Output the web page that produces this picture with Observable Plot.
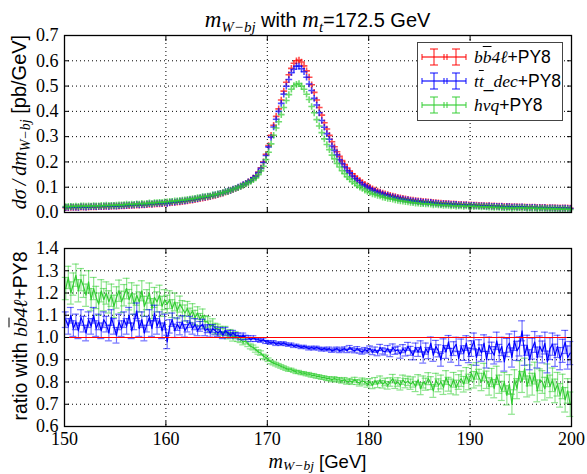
<!DOCTYPE html>
<html><head><meta charset="utf-8">
<script src="https://cdn.jsdelivr.net/npm/d3@7"></script>
<script src="https://cdn.jsdelivr.net/npm/@observablehq/plot@0.6"></script>
<style>
body{margin:0;background:#fff;}
#wrap{position:relative;width:587px;height:474px;overflow:hidden;font-family:"Liberation Sans",Arial,sans-serif;color:#000;}
.abs{position:absolute;white-space:nowrap;}
.mi{font-family:"Liberation Serif","DejaVu Serif",serif;font-style:italic;}
.ol{text-decoration:overline;}
sub{font-size:70%;vertical-align:-0.3em;line-height:0;}
.leg{position:absolute;left:417px;top:42px;width:144px;height:77px;border:1.5px solid #444;background:#fff;}
.row{position:absolute;left:3px;height:22px;font-size:17.5px;line-height:22px;}
.row svg{position:absolute;left:0;top:1px;}
.row span.t{position:absolute;left:53px;top:0;}
</style>
</head><body>
<div id="wrap"></div>
<script>
// ---------- data ----------
const binLow = d3.range(150, 200, 0.25);   // 200 bins of 0.25 GeV
const binW = 0.25;
const xTicks = [150, 160, 170, 180, 190, 200];
const yTicksTop = [0.0, 0.1, 0.2, 0.3, 0.4, 0.5, 0.6, 0.7];
const yTicksRatio = [0.6, 0.7, 0.8, 0.9, 1.0, 1.1, 1.2, 1.3, 1.4];
const seriesNames = ["bb4l+PY8", "ttdec+PY8", "hvq+PY8"];
const seriesColors = ["#ff0000", "#0000ff", "#32cd32"];

// bb4l+PY8 differential cross section [pb/GeV]
const redTop = [
.019,.019,.020,.020, .020,.020,.021,.021, .021,.021,.022,.022, .022,.023,.023,.023,
.024,.024,.024,.025, .025,.025,.026,.026, .027,.027,.028,.028, .029,.029,.030,.030,
.031,.032,.032,.033, .034,.034,.035,.036, .037,.038,.039,.040, .041,.042,.043,.045,
.046,.048,.049,.051, .053,.055,.057,.059, .061,.063,.066,.068, .071,.074,.077,.080,
.083,.087,.091,.095, .099,.104,.109,.115, .121,.128,.136,.145, .160,.177,.200,.230,
.265,.305,.345,.380, .410,.445,.480,.515, .545,.570,.590,.600, .603,.595,.580,.560,
.535,.505,.475,.445, .415,.385,.355,.330, .305,.280,.260,.240, .222,.205,.190,.176,
.164,.153,.143,.134, .126,.118,.111,.105, .099,.094,.089,.085, .081,.077,.074,.071,
.068,.065,.063,.060, .058,.056,.054,.052, .050,.049,.047,.046, .045,.044,.043,.042,
.041,.040,.039,.038, .037,.036,.036,.035, .034,.034,.033,.032, .032,.031,.031,.030,
.030,.029,.029,.028, .028,.027,.027,.027, .026,.026,.025,.025, .025,.024,.024,.024,
.023,.023,.023,.022, .022,.022,.021,.021, .021,.021,.020,.020, .020,.020,.019,.019,
.019,.019,.018,.018, .018,.018,.018,.017
];

// ratio tt_dec+PY8 / bb4l+PY8
const blueRatio = [
1.08,1.05,1.10,1.04, 1.07,1.03,1.09,1.06, 1.02,1.08,1.05,1.10, 1.04,1.07,1.03,1.08,
1.06,1.02,1.09,1.05, 1.01,1.07,1.04,1.08, 1.05,1.10,1.03,1.07, 1.12,1.04,1.08,1.02,
1.06,1.09,1.04,1.11, 1.05,1.08,1.03,1.07, 0.98,1.05,1.08,1.03, 1.06,1.04,1.07,1.03,
1.05,1.07,1.04,1.06, 1.03,1.05,1.06,1.03, 1.04,1.02,1.04,1.03, 1.02,1.03,1.01,1.03,
1.02,1.01,1.02,1.01, 1.01,1.00,1.01,1.00, 1.00,0.99,1.00,0.99, 0.99,0.985,0.99,0.98,
0.98,0.975,0.98,0.97, 0.975,0.97,0.975,0.97, 0.965,0.97,0.96,0.965, 0.96,0.955,0.96,0.955,
0.95,0.955,0.95,0.955, 0.95,0.945,0.95,0.945, 0.95,0.94,0.945,0.95, 0.94,0.945,0.95,0.94,
0.955,0.945,0.94,0.95, 0.94,0.935,0.945,0.94, 0.95,0.935,0.945,0.93, 0.955,0.94,0.935,0.95,
0.93,0.955,0.94,0.945, 0.925,0.95,0.935,0.96, 0.94,0.92,0.955,0.935, 0.96,0.91,0.95,0.93,
0.975,0.92,0.96,0.94, 0.90,0.965,0.935,0.98, 0.92,0.95,0.97,0.905, 0.96,0.93,0.975,0.92,
0.95,0.985,0.91,0.955, 0.93,0.975,0.90,0.965, 0.94,0.92,0.985,0.93, 0.96,0.89,0.955,0.975,
0.91,0.985,0.94,0.96, 1.03,0.92,0.965,0.90, 0.95,0.98,0.91,0.96, 0.935,0.975,0.89,0.95,
0.97,0.92,0.96,0.905, 0.94,0.98,0.91,0.93
];

// ratio hvq+PY8 / bb4l+PY8
const greenRatio = [
1.22,1.27,1.20,1.24, 1.28,1.21,1.26,1.23, 1.19,1.25,1.17,1.22, 1.18,1.15,1.21,1.17,
1.20,1.16,1.19,1.14, 1.18,1.21,1.16,1.19, 1.22,1.17,1.20,1.15, 1.19,1.16,1.21,1.14,
1.17,1.20,1.13,1.18, 1.16,1.19,1.14,1.17, 1.15,1.17,1.13,1.16, 1.12,1.15,1.13,1.11,
1.13,1.10,1.12,1.09, 1.11,1.08,1.10,1.07, 1.07,1.05,1.06,1.04, 1.04,1.03,1.02,1.03,
1.01,1.02,1.00,1.01, 0.995,0.99,0.98,0.985, 0.97,0.96,0.955,0.945, 0.935,0.93,0.915,0.91,
0.90,0.89,0.885,0.88, 0.875,0.87,0.865,0.86, 0.855,0.855,0.85,0.845, 0.845,0.84,0.84,0.835,
0.835,0.83,0.83,0.825, 0.825,0.82,0.82,0.815, 0.815,0.81,0.815,0.81, 0.81,0.805,0.81,0.80,
0.805,0.80,0.81,0.80, 0.795,0.805,0.80,0.79, 0.80,0.785,0.805,0.79, 0.81,0.79,0.80,0.785,
0.80,0.815,0.79,0.80, 0.785,0.81,0.795,0.805, 0.79,0.80,0.78,0.81, 0.77,0.80,0.79,0.815,
0.795,0.76,0.81,0.785, 0.80,0.775,0.82,0.79, 0.78,0.81,0.775,0.80, 0.815,0.79,0.83,0.80,
0.84,0.81,0.85,0.82, 0.80,0.845,0.81,0.78, 0.82,0.77,0.83,0.79, 0.76,0.80,0.74,0.79,
0.70,0.81,0.77,0.85, 0.80,0.86,0.78,0.83, 0.79,0.84,0.76,0.81, 0.80,0.77,0.83,0.78,
0.81,0.76,0.79,0.74, 0.78,0.72,0.76,0.70
];

// statistical errors on the ratios, one value per GeV (150..199)
const blueErr = [
.035,.035,.035,.035,.035,.035,.035,.035,.035,.035,
.030,.028,.025,.022,.018,.015,.012,.010,.008,.007,
.006,.006,.005,.005,.006,.006,.007,.008,.009,.010,
.012,.014,.016,.018,.020,.025,.027,.029,.031,.033,
.035,.037,.039,.041,.043,.045,.047,.049,.050,.052
];
const greenErr = [
.050,.050,.050,.050,.050,.048,.046,.045,.045,.045,
.040,.036,.032,.028,.024,.020,.016,.013,.011,.010,
.008,.008,.007,.007,.008,.008,.009,.010,.011,.013,
.015,.017,.019,.021,.023,.027,.029,.031,.033,.035,
.037,.039,.041,.043,.045,.047,.049,.051,.053,.055
];

// ---------- tables ----------
const topRows = [];
[[redTop.map(() => 1), 0], [blueRatio, 1], [greenRatio, 2]].forEach(([ratio, s]) => {
  redTop.forEach((v, i) => topRows.push({x: binLow[i] + binW / 2, y: v * ratio[i], s}));
});
function ratioRows(vals, errs) {
  return vals.map((v, i) => {
    const e = errs[Math.floor(i / 4)];
    return {x: binLow[i] + binW / 2, y: v, lo: v - e, hi: v + e};
  });
}
const blueRows = ratioRows(blueRatio, blueErr);
const greenRows = ratioRows(greenRatio, greenErr);

const W = 587, ML = 64, MR = 16;
const pxPerGeV = (W - ML - MR) / 50;
const capHalf = 3.5 / pxPerGeV;

const grid = {stroke: "black", strokeOpacity: 1, strokeWidth: 1, strokeDasharray: "1,3"};
const fontStyle = {fontFamily: "'Liberation Serif','DejaVu Serif',serif", fontSize: "18px", background: "transparent", overflow: "visible"};

function frameAxes(yTicks, showXLabels) {
  return [
    Plot.axisY(yTicks, {anchor: "left", tickSize: 0, tickPadding: 6, tickFormat: d3.format(".1f"), label: null}),
    Plot.axisY(yTicks, {anchor: "left", tickSize: -5, tickFormat: () => "", label: null}),
    Plot.axisY(yTicks, {anchor: "right", tickSize: -5, tickFormat: () => "", label: null}),
    Plot.axisX(xTicks, {anchor: "top", tickSize: -5, tickFormat: () => "", label: null}),
    Plot.axisX(xTicks, {anchor: "bottom", tickSize: -5, tickFormat: () => "", label: null}),
    showXLabels ? Plot.axisX(xTicks, {anchor: "bottom", tickSize: 0, tickPadding: 6, tickFormat: d3.format("d"), label: null}) : null,
    Plot.frame({stroke: "black", strokeWidth: 1.3})
  ];
}

const topPlot = Plot.plot({
  width: W, height: 230,
  marginLeft: ML, marginRight: MR, marginTop: 35, marginBottom: 18,
  style: fontStyle,
  x: {domain: [150, 200], axis: null},
  y: {domain: [0, 0.7], axis: null},
  marks: [
    Plot.ruleX(xTicks.slice(1, -1), grid),
    Plot.ruleY(yTicksTop.slice(1, -1), grid),
    ...[0, 1, 2].map(s => Plot.dot(topRows.filter(d => d.s === s), {
      x: "x", y: "y", symbol: "plus", r: 2.3, stroke: seriesColors[s], strokeWidth: 1.6, strokeOpacity: 0.7
    })),
    ...frameAxes(yTicksTop, false)
  ]
});

function ratioMarks(rows, color) {
  return [
    Plot.ruleX(rows, {x: "x", y1: "lo", y2: "hi", stroke: color, strokeOpacity: 0.55, strokeWidth: 1.2}),
    Plot.ruleY(rows, {y: "lo", x1: d => d.x - capHalf, x2: d => d.x + capHalf, stroke: color, strokeOpacity: 0.55, strokeWidth: 1.2}),
    Plot.ruleY(rows, {y: "hi", x1: d => d.x - capHalf, x2: d => d.x + capHalf, stroke: color, strokeOpacity: 0.55, strokeWidth: 1.2}),
    Plot.line(rows, {x: "x", y: "y", stroke: color, strokeWidth: 1.2})
  ];
}

const botPlot = Plot.plot({
  width: W, height: 244,
  marginLeft: ML, marginRight: MR, marginTop: 18, marginBottom: 48,
  style: fontStyle,
  x: {domain: [150, 200], axis: null},
  y: {domain: [0.6, 1.4], axis: null},
  marks: [
    Plot.ruleX(xTicks.slice(1, -1), grid),
    Plot.ruleY(yTicksRatio.slice(1, -1), grid),
    ...ratioMarks(greenRows, seriesColors[2]),
    ...ratioMarks(blueRows, seriesColors[1]),
    Plot.ruleY([1.0], {stroke: seriesColors[0], strokeWidth: 1.2}),
    ...frameAxes(yTicksRatio, true)
  ]
});

const wrap = document.getElementById("wrap");
topPlot.style.position = "absolute"; topPlot.style.left = "0px"; topPlot.style.top = "0px";
botPlot.style.position = "absolute"; botPlot.style.left = "0px"; botPlot.style.top = "230px";
wrap.appendChild(topPlot);
wrap.appendChild(botPlot);

function addHTML(html) { wrap.insertAdjacentHTML("beforeend", html); }

// title
addHTML(`<div class="abs" style="left:${ML}px;width:${W - ML - MR}px;top:7px;text-align:center;font-size:20px;line-height:26px;">
<span class="mi" style="font-size:23px">m</span><sub class="mi" style="font-size:15px">W&minus;bj</sub> with <span class="mi" style="font-size:23px">m</span><sub class="mi" style="font-size:15px">t</sub>=172.5 GeV</div>`);

// y labels
addHTML(`<div class="abs" style="left:19px;top:122px;transform:translate(-50%,-50%) rotate(-90deg);font-size:20px;line-height:24px;">
<span class="mi">d&sigma;&thinsp;/&thinsp;dm</span><sub class="mi">W&minus;bj</sub> [pb/GeV]</div>`);
addHTML(`<div class="abs" style="left:20px;top:336px;transform:translate(-50%,-50%) rotate(-90deg);font-size:19.5px;line-height:24px;">
ratio with <span class="mi">b<span class="ol">b</span>4&#8467;</span>+PY8</div>`);

// x label
addHTML(`<div class="abs" style="left:${ML}px;width:${W - ML - MR}px;top:453px;text-align:center;font-size:18.5px;line-height:17px;">
<span class="mi" style="font-size:20px">m</span><sub class="mi" style="font-size:13.5px;vertical-align:-0.15em">W&minus;bj</sub> [GeV]</div>`);

// legend
const legLabels = [
  `<span class="mi">b<span class="ol">b</span>4&#8467;</span>+PY8`,
  `<span class="mi">t<span class="ol">t</span></span>_<span class="mi">dec</span>+PY8`,
  `<span class="mi">hvq</span>+PY8`
];
function legSym(c) {
  return `<svg width="46" height="20" viewBox="0 0 46 20">
  <g stroke="${c}" stroke-opacity="0.75" stroke-width="1.3" fill="none">
  <line x1="1" y1="10" x2="45" y2="10"/>
  <line x1="13" y1="2" x2="13" y2="18"/><line x1="9" y1="2" x2="17" y2="2"/><line x1="9" y1="18" x2="17" y2="18"/>
  <line x1="35" y1="2" x2="35" y2="18"/><line x1="31" y1="2" x2="39" y2="2"/><line x1="31" y1="18" x2="39" y2="18"/>
  <line x1="1" y1="7" x2="1" y2="13"/><line x1="23" y1="7" x2="23" y2="13"/>
  <line x1="26" y1="7" x2="26" y2="13"/><line x1="45" y1="7" x2="45" y2="13"/>
  </g></svg>`;
}
let leg = `<div class="leg">`;
seriesNames.forEach((n, i) => {
  leg += `<div class="row" style="top:${3 + i * 24}px;width:140px">${legSym(seriesColors[i])}<span class="t">${legLabels[i]}</span></div>`;
});
leg += `</div>`;
addHTML(leg);
</script>
</body></html>
